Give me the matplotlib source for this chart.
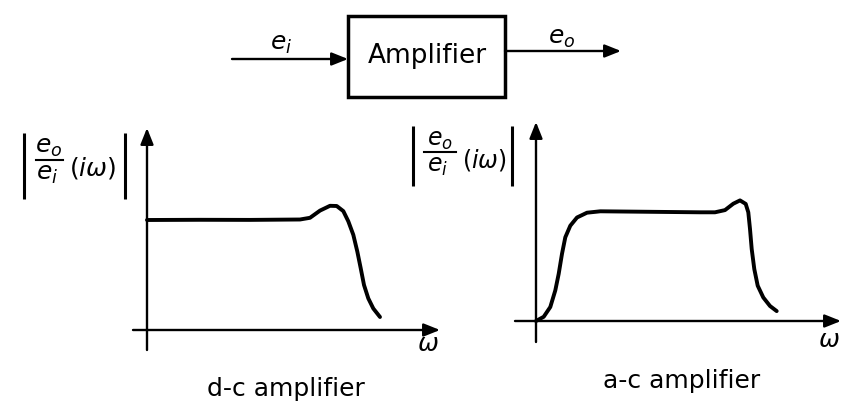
import matplotlib
matplotlib.use("Agg")
import matplotlib.pyplot as plt
from matplotlib.patches import Rectangle

plt.rcParams['font.family'] = ['DejaVu Sans']
plt.rcParams['mathtext.fontset'] = 'dejavusans'

# ---- data (omega, |eo/ei| in arbitrary units; 1 unit = 10 px) ----
dc_omega = [0.0, 5.3, 10.3, 15.3, 16.3, 17.3, 18.3, 18.97, 19.63, 20.13, 20.63, 21.03, 21.37, 21.7, 22.13, 22.63, 23.3]
dc_gain = [11.0, 11.02, 11.01, 11.05, 11.22, 11.94, 12.42, 12.4, 11.89, 10.87, 9.52, 7.85, 6.18, 4.5, 3.16, 2.15, 1.3]

ac_omega = [0.0, 0.77, 1.43, 1.93, 2.27, 2.6, 2.93, 3.43, 4.1, 5.1, 6.43, 11.4, 16.4, 17.9, 18.9, 19.73, 20.4, 20.97, 21.23, 21.4, 21.57, 21.83, 22.17, 22.73, 23.4, 24.07]
ac_gain = [0.0, 0.42, 1.4, 3.06, 4.72, 6.72, 8.37, 9.53, 10.35, 10.83, 10.97, 10.92, 10.87, 10.87, 11.09, 11.73, 12.06, 11.71, 10.87, 9.2, 7.2, 5.19, 3.53, 2.35, 1.5, 0.99]

num_text = r'$e_o$'
den_text = r'$e_i$'
arg_text = r'$(i\omega)$'
xlabel_text = r'$\omega$'
caption_dc = 'd-c amplifier'
caption_ac = 'a-c amplifier'
block_text = 'Amplifier'
in_text = r'$e_i$'
out_text = r'$e_o$'

W, H = 846, 411
fig = plt.figure(figsize=(W / 100, H / 100), dpi=100)
fig.patch.set_facecolor('white')

# overlay axes in pixel coordinates
ax0 = fig.add_axes([0, 0, 1, 1])
ax0.set_xlim(0, W)
ax0.set_ylim(H, 0)
ax0.axis('off')

aprops = dict(arrowstyle='-|>,head_length=0.7,head_width=0.28', lw=1.7,
              color='black', shrinkA=0, shrinkB=0, mutation_scale=14)

# block diagram
ax0.add_patch(Rectangle((348, 16), 157, 81, fill=False, lw=2.5, ec='black'))
ax0.annotate('', xy=(348, 59), xytext=(232, 59), arrowprops=aprops)
ax0.annotate('', xy=(621, 51), xytext=(505, 51), arrowprops=aprops)
ax0.text(427, 56, block_text, fontsize=19, ha='center', va='center')
ax0.text(281, 44, in_text, fontsize=18, ha='center', va='center')
ax0.text(562, 38, out_text, fontsize=18, ha='center', va='center')


def place(x0, x1, ytop, ybot):
    a = fig.add_axes([x0 / W, 1 - ybot / H, (x1 - x0) / W, (ybot - ytop) / H])
    a.axis('off')
    return a


def draw_plot(a, omega, gain, xmin, xmax, ymin, ymax):
    a.set_xlim(xmin, xmax)
    a.set_ylim(ymin, ymax)
    a.annotate('', xy=(0, ymax), xytext=(0, ymin), arrowprops=aprops, annotation_clip=False)
    a.annotate('', xy=(xmax, 0), xytext=(xmin, 0), arrowprops=aprops, annotation_clip=False)
    a.plot(omega, gain, color='black', lw=2.8, solid_joinstyle='round',
           solid_capstyle='round', clip_on=False)


def ylabel(xl, xr, ytop, ybot, num_xy, frac_x, frac_y, den_xy, arg_xy, fs):
    ax0.plot([xl, xl], [ytop, ybot], color='black', lw=2.2, solid_capstyle='butt')
    ax0.plot([xr, xr], [ytop, ybot], color='black', lw=2.2, solid_capstyle='butt')
    ax0.plot(frac_x, [frac_y, frac_y], color='black', lw=1.5)
    ax0.text(num_xy[0], num_xy[1], num_text, fontsize=fs, ha='center', va='center')
    ax0.text(den_xy[0], den_xy[1], den_text, fontsize=fs, ha='center', va='center')
    ax0.text(arg_xy[0], arg_xy[1], arg_text, fontsize=fs, ha='center', va='center')


# left: d-c amplifier, origin at (147, 330) px
axL = place(133, 440, 128, 350)
draw_plot(axL, dc_omega, dc_gain, -1.4, 29.3, -2.0, 20.2)

# right: a-c amplifier, origin at (536, 321) px
axR = place(515, 841, 122, 342)
draw_plot(axR, ac_omega, ac_gain, -2.1, 30.5, -2.1, 19.9)

# y labels
ylabel(24, 125, 133, 199, (49, 147), [36, 63], 160, (47, 174), (93, 168), 18)
ylabel(413, 512, 126, 186, (440, 140), [424, 456], 152, (438, 166), (484, 160), 17)

# x labels and captions
ax0.text(428, 344, xlabel_text, fontsize=18, ha='center', va='center')
ax0.text(829, 340, xlabel_text, fontsize=18, ha='center', va='center')
ax0.text(286, 396, caption_dc, fontsize=18, ha='center', va='baseline')
ax0.text(682, 388, caption_ac, fontsize=18, ha='center', va='baseline')

fig.savefig('out.png', dpi=100, facecolor='white')
